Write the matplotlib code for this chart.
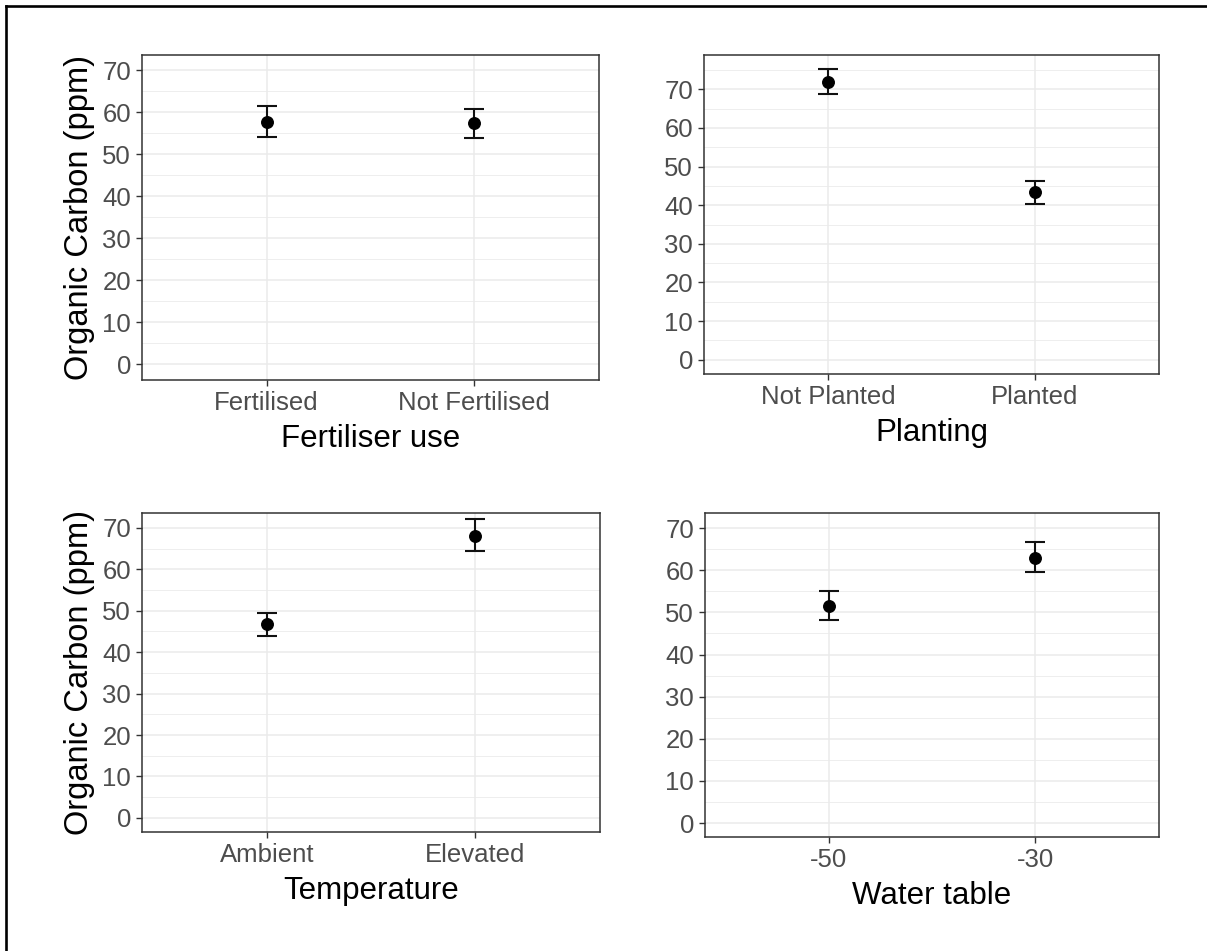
import matplotlib
matplotlib.use("Agg")
import matplotlib.pyplot as plt
from matplotlib.ticker import MultipleLocator, NullLocator
from matplotlib.lines import Line2D

plt.rcParams['font.family'] = ['Liberation Sans', 'DejaVu Sans']

# ---- data ----
fert_labels = ["Fertilised", "Not Fertilised"]
fert_mean = [57.7, 57.4]
fert_lo = [54.2, 53.9]
fert_hi = [61.5, 60.7]

plant_labels = ["Not Planted", "Planted"]
plant_mean = [72.0, 43.3]
plant_lo = [68.7, 40.3]
plant_hi = [75.3, 46.2]

temp_labels = ["Ambient", "Elevated"]
temp_mean = [46.7, 68.1]
temp_lo = [43.8, 64.5]
temp_hi = [49.5, 72.1]

water_labels = ["-50", "-30"]
water_mean = [51.6, 63.0]
water_lo = [48.2, 59.7]
water_hi = [55.2, 66.6]

y_ticks = [0, 10, 20, 30, 40, 50, 60, 70]
y_label = "Organic Carbon (ppm)"

W, H = 1207, 951
fig = plt.figure(figsize=(W / 100, H / 100), dpi=100)
fig.patch.set_facecolor("white")


def px_axes(x0, y0, x1, y1):
    return fig.add_axes([x0 / W, (H - y1) / H, (x1 - x0) / W, (y1 - y0) / H])


panels = [
    dict(box=(142, 55, 599, 380), labels=fert_labels, mean=fert_mean, lo=fert_lo,
         hi=fert_hi, xlabel="Fertiliser use", ylim=(-3.7, 73.6), ylab=True),
    dict(box=(704, 55, 1159, 374), labels=plant_labels, mean=plant_mean, lo=plant_lo,
         hi=plant_hi, xlabel="Planting", ylim=(-3.7, 78.9), ylab=False),
    dict(box=(142, 513, 600, 832), labels=temp_labels, mean=temp_mean, lo=temp_lo,
         hi=temp_hi, xlabel="Temperature", ylim=(-3.4, 73.6), ylab=True),
    dict(box=(705, 513, 1159, 837), labels=water_labels, mean=water_mean, lo=water_lo,
         hi=water_hi, xlabel="Water table", ylim=(-3.3, 73.6), ylab=False),
]

frame_col = "#333333"
grid_col = "#EBEBEB"
tick_txt = "#4D4D4D"

for p in panels:
    ax = px_axes(*p["box"])
    x = list(range(1, len(p["labels"]) + 1))
    yerr = [[m - l for m, l in zip(p["mean"], p["lo"])],
            [h - m for m, h in zip(p["mean"], p["hi"])]]
    ax.errorbar(x, p["mean"], yerr=yerr, fmt="o", color="black", ecolor="#111111",
                markersize=8.3, elinewidth=1.5, capsize=7.2, capthick=1.5, zorder=3)
    ax.set_xlim(0.4, len(x) + 0.6)
    ax.set_ylim(*p["ylim"])
    ax.set_xticks(x)
    ax.set_xticklabels(p["labels"])
    ax.set_yticks(y_ticks)
    ax.yaxis.set_minor_locator(MultipleLocator(5))
    ax.xaxis.set_minor_locator(NullLocator())
    ax.grid(True, which="major", color=grid_col, linewidth=1.1, zorder=0)
    ax.grid(True, which="minor", axis="y", color=grid_col, linewidth=0.6, zorder=0)
    ax.set_axisbelow(True)
    for s in ax.spines.values():
        s.set_color(frame_col)
        s.set_linewidth(1.1)
    ax.tick_params(axis="both", which="major", length=4.3, width=1.0, color=frame_col,
                   labelsize=18.5, labelcolor=tick_txt, pad=3.5)
    ax.tick_params(axis="y", which="minor", length=0)
    ax.set_xlabel(p["xlabel"], fontsize=22.5, color="black")
    h_px = p["box"][3] - p["box"][1]
    ax.xaxis.set_label_coords(0.5, -59 / h_px)
    ax.xaxis.label.set_va("center")
    if p["ylab"]:
        ax.set_ylabel(y_label, fontsize=23.5, color="black")
        w_px = p["box"][2] - p["box"][0]
        ax.yaxis.set_label_coords(-(p["box"][0] - 80) / w_px, 0.5)
        ax.yaxis.label.set_va("center")

# outer border (left and top edges visible)
fig.add_artist(Line2D([5.5 / W, 5.5 / W], [0, (H - 5.5) / H], color="black",
                      linewidth=1.9, transform=fig.transFigure))
fig.add_artist(Line2D([5.5 / W, 1.0], [(H - 5.5) / H, (H - 5.5) / H], color="black",
                      linewidth=1.9, transform=fig.transFigure))

fig.savefig("out.png", dpi=100, facecolor="white")
